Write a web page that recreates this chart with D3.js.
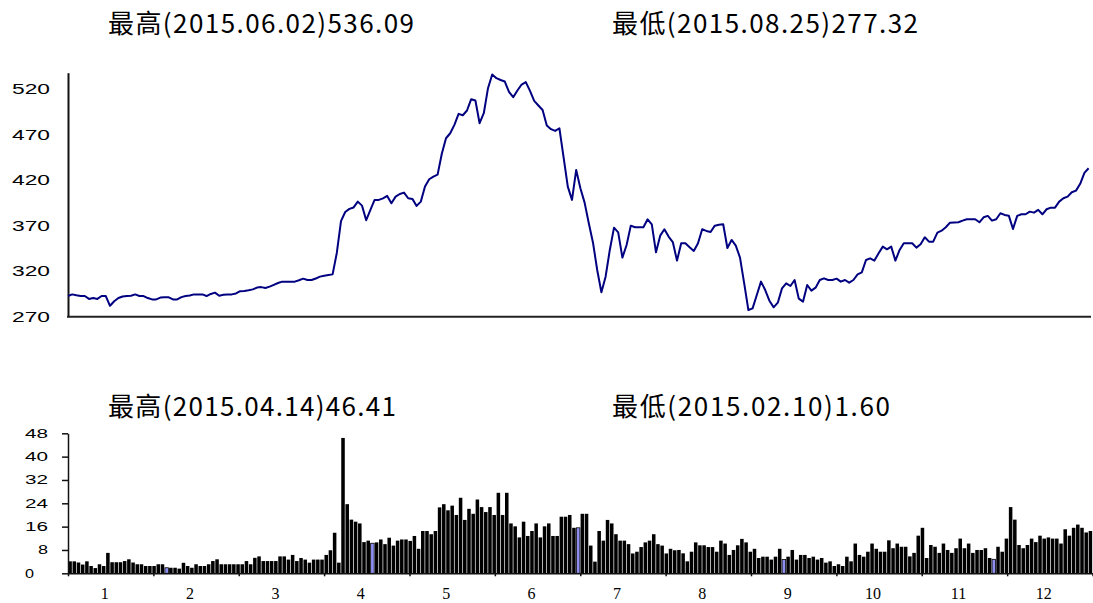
<!DOCTYPE html>
<html>
<head>
<meta charset="utf-8">
<script src="https://cdnjs.cloudflare.com/ajax/libs/d3/7.8.5/d3.min.js"></script>
<style>
html,body{margin:0;padding:0;background:#fff;}
svg{display:block;}
</style>
</head>
<body>
<svg id="chart" width="1093" height="603"></svg>
<script>
// ---------- data ----------
const lineValues = [
292.7,294.5,293.5,292.7,292.7,289.5,290.5,289.5,292.7,292.7,
282.0,287.0,290.5,292.2,292.7,293.0,294.5,292.7,292.7,290.5,
289.0,289.0,291.0,291.3,291.3,289.0,289.0,291.5,292.7,293.2,
294.5,294.5,294.5,292.7,295.0,296.4,293.0,294.0,294.5,294.5,
295.5,298.0,298.2,299.0,300.0,302.0,302.5,301.5,303.0,305.0,
307.0,308.5,308.5,308.5,308.5,310.0,311.8,310.3,310.3,312.0,
314.0,315.0,315.8,316.5,340.0,375.0,385.0,388.4,390.0,396.4,
392.0,376.0,387.3,398.3,398.3,400.0,402.7,394.6,401.9,404.8,
406.3,400.1,399.4,391.7,396.4,412.9,421.0,423.9,426.0,449.0,
466.0,471.5,480.7,492.8,491.3,496.5,508.9,507.5,482.5,493.5,
521.0,536.09,532.0,530.0,528.3,517.0,511.1,518.5,525.0,527.6,
518.0,507.0,502.0,497.0,480.0,476.0,474.1,477.0,445.0,412.9,
398.3,431.2,411.1,395.3,372.6,351.3,321.3,296.8,314.0,343.3,
367.8,362.7,334.9,348.8,370.0,368.2,368.2,368.2,377.0,371.5,
340.7,359.0,366.0,358.0,352.0,331.6,350.6,350.6,346.2,342.2,
350.6,366.0,364.2,363.1,370.0,371.0,371.5,345.5,354.3,348.0,
334.9,306.6,277.32,279.2,293.8,308.5,299.3,287.6,280.3,285.4,
301.1,306.6,303.7,310.3,289.8,286.5,304.8,298.6,301.9,310.3,
312.1,310.3,310.3,311.8,308.5,310.3,307.4,310.3,316.5,318.7,
332.3,334.1,331.6,339.6,347.0,344.0,347.0,331.6,343.3,350.6,
350.6,350.6,345.9,349.5,357.2,352.4,352.4,362.3,364.5,368.2,
373.3,373.5,373.7,375.5,377.0,377.0,377.0,373.7,379.2,380.7,
375.5,377.0,383.6,381.8,381.0,366.4,380.7,382.5,382.5,385.4,
384.3,387.3,382.5,388.0,389.8,389.8,396.4,400.1,401.9,406.7,
408.5,416.0,428.0,433.0
];
const barValues = [
4.1,4.1,3.7,3.0,4.1,2.5,1.8,3.1,2.5,7.0,
3.8,3.8,3.8,4.2,4.8,3.7,3.1,3.1,2.5,2.5,
2.5,3.1,3.1,1.9,1.9,1.9,1.6,3.6,2.5,1.9,
3.1,2.5,2.5,3.1,4.2,4.8,3.1,3.1,3.1,3.1,
3.1,3.1,4.2,3.1,5.3,5.8,4.2,4.2,
4.2,4.2,5.8,5.8,4.7,6.3,4.2,5.25,4.7,3.65,
4.7,4.7,4.7,6.3,7.9,13.9,3.65,46.41,23.7,18.4,
17.7,17.1,10.7,11.2,10.3,10.6,11.6,10.0,12.2,9.5,
11.2,11.6,11.6,11.1,12.8,8.4,14.5,14.5,13.4,14.5,
22.6,23.7,21.6,23.2,20.0,25.9,18.3,22.1,20.4,25.3,
22.7,21.0,22.7,20.0,27.6,20.0,27.6,17.1,16.1,12.3,
17.7,12.8,14.5,17.1,12.3,16.1,17.1,12.8,12.8,19.4,
19.4,20.0,15.6,15.6,20.4,20.4,9.5,4.0,14.5,11.2,
18.3,17.1,13.4,11.2,11.2,10.0,6.8,7.4,9.0,10.6,
11.2,13.4,10.0,9.5,6.8,8.4,7.9,
8.0,6.85,4.1,7.4,10.6,9.6,9.6,9.0,9.0,7.4,
11.2,10.2,6.3,8.0,9.6,11.8,10.6,7.4,8.4,5.25,
5.7,5.7,4.7,5.7,8.4,4.7,5.7,8.0,4.7,6.3,
6.3,5.25,5.7,4.7,5.25,3.65,4.1,2.5,3.1,2.5,
5.7,4.1,10.2,6.3,5.7,7.4,10.2,8.4,7.4,
7.4,11.3,8.6,10.2,9.1,9.1,5.8,7.0,12.9,15.6,
5.25,9.7,9.1,7.0,10.2,8.0,7.0,8.6,11.9,8.6,
10.2,7.0,8.0,8.0,8.6,5.25,4.8,9.1,7.4,11.9,
22.7,18.4,9.7,8.6,9.7,11.9,10.7,12.9,11.9,12.3,
11.9,11.9,10.2,15.1,12.9,15.6,16.7,15.6,14.0,14.5
];
const highlightBars = [23, 72, 121, 170, 220];
const topTicks = [270, 320, 370, 420, 470, 520];
const bottomTicks = [0, 8, 16, 24, 32, 40, 48];
const monthLabels = ["1","2","3","4","5","6","7","8","9","10","11","12"];
const titleTopHigh = "最高(2015.06.02)536.09";
const titleTopLow = "最低(2015.08.25)277.32";
const titleBotHigh = "最高(2015.04.14)46.41";
const titleBotLow = "最低(2015.02.10)1.60";

// ---------- layout ----------
const svg = d3.select("#chart");
const left = 68, right = 1092.5;
const n = barValues.length;

const xLine = d3.scaleLinear().domain([0, n - 1]).range([left, left + 4.2 * (n - 1)]);
const yTop = d3.scaleLinear().domain([270, 538]).range([316.7, 72.7]);
const xBar = d3.scaleBand().domain(d3.range(n)).range([left, right]).paddingInner(0.16).paddingOuter(0.08);
const yBot = d3.scaleLinear().domain([0, 48]).range([573.3, 433.3]);
const xMonth = d3.scaleLinear().domain([0, 12]).range([left, right]);

// ---------- titles ----------
function title(str, x0, y, width) {
  svg.append("text")
    .attr("x", x0)
    .attr("y", y)
    .attr("font-family", "'Liberation Sans Narrow','Noto Sans CJK SC',sans-serif")
    .attr("font-size", 26)
    .attr("fill", "#000")
    .attr("textLength", width)
    .attr("lengthAdjust", "spacing")
    .text(str);
}
title(titleTopHigh, 108, 32.5, 306);
title(titleTopLow, 612, 32.5, 306);
title(titleBotHigh, 108, 415.5, 288);
title(titleBotLow, 612, 415.5, 278);

// ---------- top line chart ----------
const gTop = svg.append("g");
const axTopY = d3.axisLeft(yTop).tickValues(topTicks).tickSize(0).tickPadding(18).tickSizeOuter(0);
const gy = gTop.append("g").attr("transform", `translate(${left},0)`).call(axTopY);
gy.select(".domain").attr("stroke", "#111").attr("stroke-width", 2);
gy.selectAll("text")
  .attr("font-family", "'Liberation Sans',Arial,sans-serif")
  .attr("font-size", 14)
  .attr("fill", "#000")
  .attr("textLength", 38)
  .attr("lengthAdjust", "spacingAndGlyphs");

gTop.append("line")
  .attr("x1", left - 1).attr("x2", 1091)
  .attr("y1", yTop(270)).attr("y2", yTop(270))
  .attr("stroke", "#222").attr("stroke-width", 2);

const lineGen = d3.line().x((d, i) => xLine(i)).y(d => yTop(d));
gTop.append("path")
  .datum(lineValues)
  .attr("d", lineGen)
  .attr("fill", "none")
  .attr("stroke", "#000080")
  .attr("stroke-width", 2)
  .attr("stroke-linejoin", "round");

// ---------- bottom bar chart ----------
const gBot = svg.append("g");
gBot.selectAll("rect.bar")
  .data(barValues)
  .join("rect")
  .attr("class", "bar")
  .attr("x", (d, i) => xBar(i))
  .attr("width", xBar.bandwidth())
  .attr("y", d => yBot(d))
  .attr("height", d => yBot(0) - yBot(d))
  .attr("fill", (d, i) => highlightBars.includes(i) ? "#8f8ff2" : "#000")
  .attr("stroke", (d, i) => highlightBars.includes(i) ? "#000" : "none")
  .attr("stroke-width", 0.8);

const axBotY = d3.axisLeft(yBot).tickValues(bottomTicks).tickSize(6).tickPadding(14).tickSizeOuter(0);
const gby = gBot.append("g").attr("transform", `translate(${left},0)`).call(axBotY);
gby.select(".domain").attr("stroke", "#111").attr("stroke-width", 1.5);
gby.selectAll(".tick line").attr("stroke", "#111").attr("stroke-width", 1.5);
gby.selectAll("text")
  .attr("font-family", "'Liberation Sans',Arial,sans-serif")
  .attr("font-size", 12.5)
  .attr("fill", "#000")
  .attr("x", -20)
  .each(function(d) {
    const s = String(d);
    const t = d3.select(this);
    if (s.length === 2) t.attr("textLength", 23).attr("lengthAdjust", "spacingAndGlyphs");
    else if (d === 0) t.attr("text-anchor", "start").attr("x", -43).attr("textLength", 9).attr("lengthAdjust", "spacingAndGlyphs");
    else t.attr("textLength", 10).attr("lengthAdjust", "spacingAndGlyphs");
  });

const axMonth = d3.axisBottom(xMonth).tickValues(d3.range(0, 13)).tickSize(3).tickFormat("").tickSizeOuter(0);
const gm = gBot.append("g").attr("transform", `translate(0,${yBot(0)})`).call(axMonth);
gm.select(".domain").attr("stroke", "#111").attr("stroke-width", 1.5);
gm.selectAll(".tick line").attr("stroke", "#111").attr("stroke-width", 1.5);

gBot.selectAll("text.month")
  .data(monthLabels)
  .join("text")
  .attr("class", "month")
  .attr("x", (d, i) => xMonth(i + 0.43))
  .attr("y", 599)
  .attr("text-anchor", "middle")
  .attr("font-family", "'Liberation Serif','Times New Roman',serif")
  .attr("font-size", 16)
  .attr("fill", "#000")
  .text(d => d);
</script>
</body>
</html>
